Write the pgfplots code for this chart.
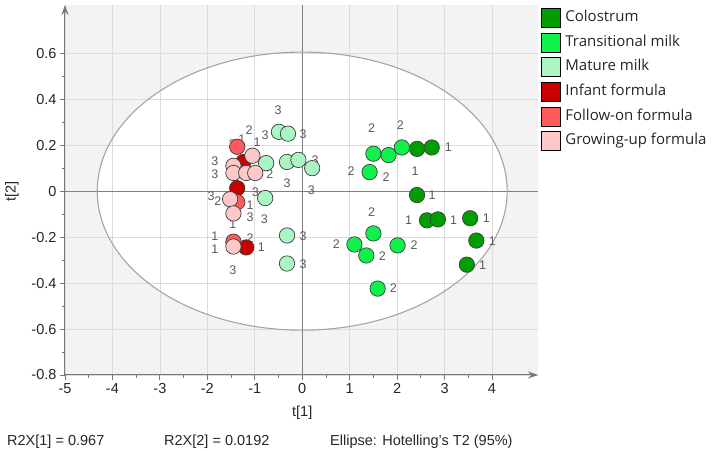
\documentclass[border=0pt]{standalone}
\usepackage{fontspec}
\setmainfont{Liberation Sans}
\newfontfamily\legfont{Open Sans}
\usepackage{pgfplots}
\pgfplotsset{compat=1.18}
\usetikzlibrary{calc,arrows.meta}
\definecolor{cCol}{RGB}{0,158,0}
\definecolor{cTra}{RGB}{15,242,75}
\definecolor{cMat}{RGB}{170,245,195}
\definecolor{cInf}{RGB}{200,0,0}
\definecolor{cFol}{RGB}{255,90,90}
\definecolor{cGro}{RGB}{255,200,200}
\definecolor{bgc}{RGB}{243,243,243}
\definecolor{gridc}{RGB}{220,220,220}
\definecolor{zeroc}{RGB}{128,128,128}
\definecolor{ellc}{RGB}{165,165,165}
\definecolor{axc}{RGB}{120,120,120}
\definecolor{labc}{RGB}{90,90,90}
\definecolor{mkc}{RGB}{60,60,60}
\newcommand{\tickfont}{\fontsize{14.5}{17}\selectfont}
\newcommand{\labfont}{\fontsize{12.5}{14}\selectfont}

\pgfplotstableread{
x y
2.42 0.184
2.73 0.190
2.42 -0.017
2.63 -0.127
2.86 -0.123
3.54 -0.118
3.67 -0.215
3.47 -0.320
}\colostrum
\pgfplotstableread{
x y
1.50 0.163
1.82 0.157
2.10 0.190
1.42 0.083
1.50 -0.184
1.10 -0.232
1.35 -0.280
2.01 -0.236
1.59 -0.424
}\transitional
\pgfplotstableread{
x y
-0.49 0.258
-0.30 0.250
-0.76 0.122
-0.32 0.127
-0.08 0.136
0.21 0.100
-0.78 -0.030
-0.32 -0.193
-0.32 -0.315
}\mature
\pgfplotstableread{
x y
-1.24 0.127
-1.37 0.013
-1.18 -0.245
}\infant
\pgfplotstableread{
x y
-1.37 0.193
-1.37 -0.048
-1.45 -0.220
}\followon
\pgfplotstableread{
x y
-1.05 0.154
-1.45 0.110
-1.45 0.079
-1.18 0.079
-0.99 0.079
-1.52 -0.035
-1.45 -0.097
-1.45 -0.241
}\growingup
\pgfplotstableread{
x y l
3.08 0.193 1
2.38 0.088 1
2.74 -0.018 1
2.24 -0.127 1
3.19 -0.127 1
3.88 -0.118 1
4.01 -0.219 1
3.80 -0.324 1
1.46 0.276 2
2.07 0.289 2
1.03 0.088 2
1.77 0.061 2
1.46 -0.092 2
0.72 -0.232 2
1.69 -0.284 2
2.36 -0.236 2
1.92 -0.424 2
-0.51 0.354 3
0.02 0.249 3
-0.78 0.245 3
0.27 0.136 3
-0.32 0.035 3
0.19 0.004 3
-0.99 -0.003 3
-0.80 -0.123 3
0.02 -0.197 3
0.02 -0.319 3
-1.48 0.206 2
-1.27 0.228 1
-1.12 0.267 2
-0.95 0.214 1
-1.84 0.132 3
-1.84 0.074 3
-0.89 0.079 3
-0.68 0.074 2
-1.92 -0.022 3
-1.78 -0.045 2
-1.10 -0.062 1
-1.10 -0.115 3
-1.46 -0.144 1
-1.84 -0.196 1
-1.84 -0.254 1
-1.10 -0.206 2
-0.86 -0.245 1
-1.46 -0.346 3
}\labels

\begin{document}
\begin{tikzpicture}
\begin{axis}[
  name=ax, set layers,
  scale only axis, width=473pt, height=370pt,
  xmin=-5, xmax=4.97, ymin=-0.8, ymax=0.81,
  axis x line=bottom, axis y line=left,
  axis line style={draw=axc, line width=1pt, -{Stealth[length=10pt,width=7pt]}},
  xtick={-5,-4,-3,-2,-1,0,1,2,3,4},
  ytick={-0.8,-0.6,-0.4,-0.2,0,0.2,0.4,0.6},
  minor x tick num=1, minor y tick num=1,
  tick align=outside, major tick length=5pt, minor tick length=3pt,
  tick style={draw=axc, line width=0.8pt},
  grid=major, major grid style={draw=gridc, line width=0.7pt},
  /pgf/number format/assume math mode=true,
  tick label style={font=\tickfont, text=black!85},
  xlabel={t[1]}, ylabel={t[2]},
  label style={font=\tickfont, text=black!85},
  xlabel style={at={([yshift=-38pt]axis description cs:0.5015,0)}, anchor=center},
  ylabel style={at={([xshift=-53pt]axis description cs:0,0.497)}, anchor=center},
  legend style={at={(rel axis cs:1,1)}, anchor=north west, xshift=3pt, yshift=-3pt,
    draw=none, fill=none, inner sep=0pt, outer sep=0pt, row sep=5.3pt,
    font=\legfont\fontsize{15}{18}\selectfont, text=black!85,
    nodes={inner xsep=5pt, inner ysep=0pt, text height=11pt, text depth=3.5pt},
    cells={anchor=west}},
  legend image code/.code={\fill (0pt,-9.5pt) rectangle (19pt,9.5pt);},
  clip=false,
]
\begin{pgfonlayer}{axis background}
\fill[bgc, even odd rule] (rel axis cs:0,0) rectangle (rel axis cs:1,1)
  (axis cs:0,0) ellipse [x radius=4.32, y radius=0.605];
\end{pgfonlayer}
\draw[zeroc, line width=1.1pt] (axis cs:-5,0) -- (axis cs:4.97,0);
\draw[zeroc, line width=1.1pt] (axis cs:0,-0.8) -- (axis cs:0,0.81);
\draw[ellc, line width=1.1pt] (axis cs:0,0) ellipse [x radius=4.32, y radius=0.605];

\addplot[forget plot, only marks, mark=none, nodes near coords,
  point meta=explicit symbolic,
  nodes near coords style={anchor=center, font=\labfont, text=labc, inner sep=0pt}]
  table[meta=l] {\labels};

\addplot[only marks, mark=*, mark size=7.7pt, fill=cCol, mark options={fill=cCol, draw=mkc, line width=0.7pt}] table {\colostrum};
\addlegendentry{Colostrum}
\addplot[only marks, mark=*, mark size=7.7pt, fill=cTra, mark options={fill=cTra, draw=mkc, line width=0.7pt}] table {\transitional};
\addlegendentry{Transitional milk}
\addplot[only marks, mark=*, mark size=7.7pt, fill=cMat, mark options={fill=cMat, draw=mkc, line width=0.7pt}] table {\mature};
\addlegendentry{Mature milk}
\addplot[only marks, mark=*, mark size=7.7pt, fill=cInf, mark options={fill=cInf, draw=mkc, line width=0.7pt}] table {\infant};
\addlegendentry{Infant formula}
\addplot[only marks, mark=*, mark size=7.7pt, fill=cFol, mark options={fill=cFol, draw=mkc, line width=0.7pt}] table {\followon};
\addlegendentry{Follow-on formula}
\addplot[only marks, mark=*, mark size=7.7pt, fill=cGro, mark options={fill=cGro, draw=mkc, line width=0.7pt}] table {\growingup};
\addlegendentry{Growing-up formula}
\end{axis}
\node[anchor=base west, font=\tickfont, text=black!85, inner sep=0pt] at ([xshift=-58pt,yshift=-71pt]ax.south west) {R2X[1] = 0.967};
\node[anchor=base west, font=\tickfont, text=black!85, inner sep=0pt] at ([xshift=99pt,yshift=-71pt]ax.south west) {R2X[2] = 0.0192};
\node[anchor=base west, font=\tickfont, text=black!85, inner sep=0pt] at ([xshift=265pt,yshift=-71pt]ax.south west) {Ellipse: Hotelling's T2 (95\%)};
\pgfresetboundingbox
\path ([xshift=-65pt,yshift=-76pt]ax.south west) rectangle ([xshift=176pt,yshift=5pt]ax.north east);
\end{tikzpicture}
\end{document}
